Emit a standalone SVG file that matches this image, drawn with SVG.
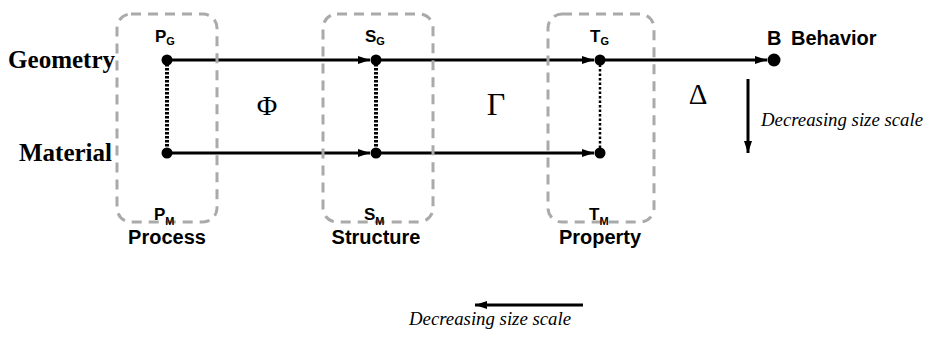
<svg xmlns="http://www.w3.org/2000/svg" width="925" height="337" viewBox="0 0 925 337">
<defs>
<marker id="ah" viewBox="0 0 12 8" refX="12" refY="4" markerWidth="12" markerHeight="8" markerUnits="userSpaceOnUse" orient="auto">
<path d="M0,0 L12,4 L0,8 Z" fill="#000"/>
</marker>
<style>
.box{fill:none;stroke:#aaa;stroke-width:3;stroke-dasharray:10,7}
.dot{fill:#000}
.ln{stroke:#000;stroke-width:3;fill:none}
.lab{font-family:"Liberation Sans",Arial,sans-serif;font-weight:bold;font-size:17px;fill:#000}
.sub{font-size:11px}
.cap{font-size:20px}
.side{font-family:"Liberation Serif","Times New Roman",serif;font-weight:bold;font-size:25px;fill:#000}
.greek{font-family:"Liberation Serif","Times New Roman",serif;fill:#000}
.note{font-family:"Liberation Serif","Times New Roman",serif;font-style:italic;font-size:18.8px;fill:#000}
</style>
</defs>
<text class="side" x="115" y="68" text-anchor="end">Geometry</text>
<text class="side" x="112" y="161" text-anchor="end">Material</text>
<g id="connectors">
<line class="ln" x1="167" y1="60" x2="370" y2="60" marker-end="url(#ah)"/>
<line class="ln" x1="376" y1="60" x2="594" y2="60" marker-end="url(#ah)"/>
<line class="ln" x1="600" y1="60" x2="767" y2="60" marker-end="url(#ah)"/>
<line class="ln" x1="167" y1="153" x2="370" y2="153" stroke-width="2.5" marker-end="url(#ah)"/>
<line class="ln" x1="376" y1="153" x2="594" y2="153" stroke-width="2.5" marker-end="url(#ah)"/>
<line x1="167" y1="60" x2="167" y2="153" stroke="#000" stroke-width="4" stroke-dasharray="2.5,1.5"/>
<line x1="376" y1="60" x2="376" y2="153" stroke="#000" stroke-width="4" stroke-dasharray="2.5,1.5"/>
<line x1="600" y1="60" x2="600" y2="153" stroke="#000" stroke-width="2.5" stroke-dasharray="2.5,2"/>
<line class="ln" x1="748" y1="79" x2="748" y2="153" stroke-width="2.5" marker-end="url(#ah)"/>
<line class="ln" x1="583" y1="305" x2="475" y2="305" stroke-width="2.5" marker-end="url(#ah)"/>
</g>
<g id="process">
<rect class="box" x="117" y="14" width="100" height="208" rx="14"/>
<text class="lab" x="155" y="42">P<tspan class="sub" dy="3">G</tspan></text>
<text class="lab" x="154" y="220">P<tspan class="sub" dy="5">M</tspan></text>
<text class="lab cap" x="167" y="244" text-anchor="middle">Process</text>
<circle class="dot" cx="167" cy="60" r="5.5"/>
<circle class="dot" cx="167" cy="153" r="5.5"/>
</g>
<g id="structure">
<rect class="box" x="323" y="14" width="110" height="208" rx="14"/>
<text class="lab" x="365" y="42">S<tspan class="sub" dy="3">G</tspan></text>
<text class="lab" x="364" y="220">S<tspan class="sub" dy="5">M</tspan></text>
<text class="lab cap" x="376" y="244" text-anchor="middle">Structure</text>
<circle class="dot" cx="376" cy="60" r="5.5"/>
<circle class="dot" cx="376" cy="153" r="5.5"/>
</g>
<g id="property">
<rect class="box" x="548" y="14" width="106" height="208" rx="14"/>
<text class="lab" x="590" y="42">T<tspan class="sub" dy="3">G</tspan></text>
<text class="lab" x="589" y="220">T<tspan class="sub" dy="5">M</tspan></text>
<text class="lab cap" x="600" y="244" text-anchor="middle">Property</text>
<circle class="dot" cx="600" cy="60" r="5.5"/>
<circle class="dot" cx="600" cy="153" r="5.5"/>
</g>
<g id="behavior">
<circle class="dot" cx="774" cy="60" r="6.5"/>
<text class="lab cap" x="767" y="45">B</text>
<text class="lab cap" x="791" y="45">Behavior</text>
</g>
<text class="greek" x="267" y="115" text-anchor="middle" font-size="28">Φ</text>
<text class="greek" x="496" y="115" text-anchor="middle" font-size="32">Γ</text>
<text class="greek" x="698" y="104" text-anchor="middle" font-size="29">Δ</text>
<text class="note" x="761" y="126">Decreasing size scale</text>
<text class="note" x="409" y="325" font-size="18.2">Decreasing size scale</text>
</svg>
